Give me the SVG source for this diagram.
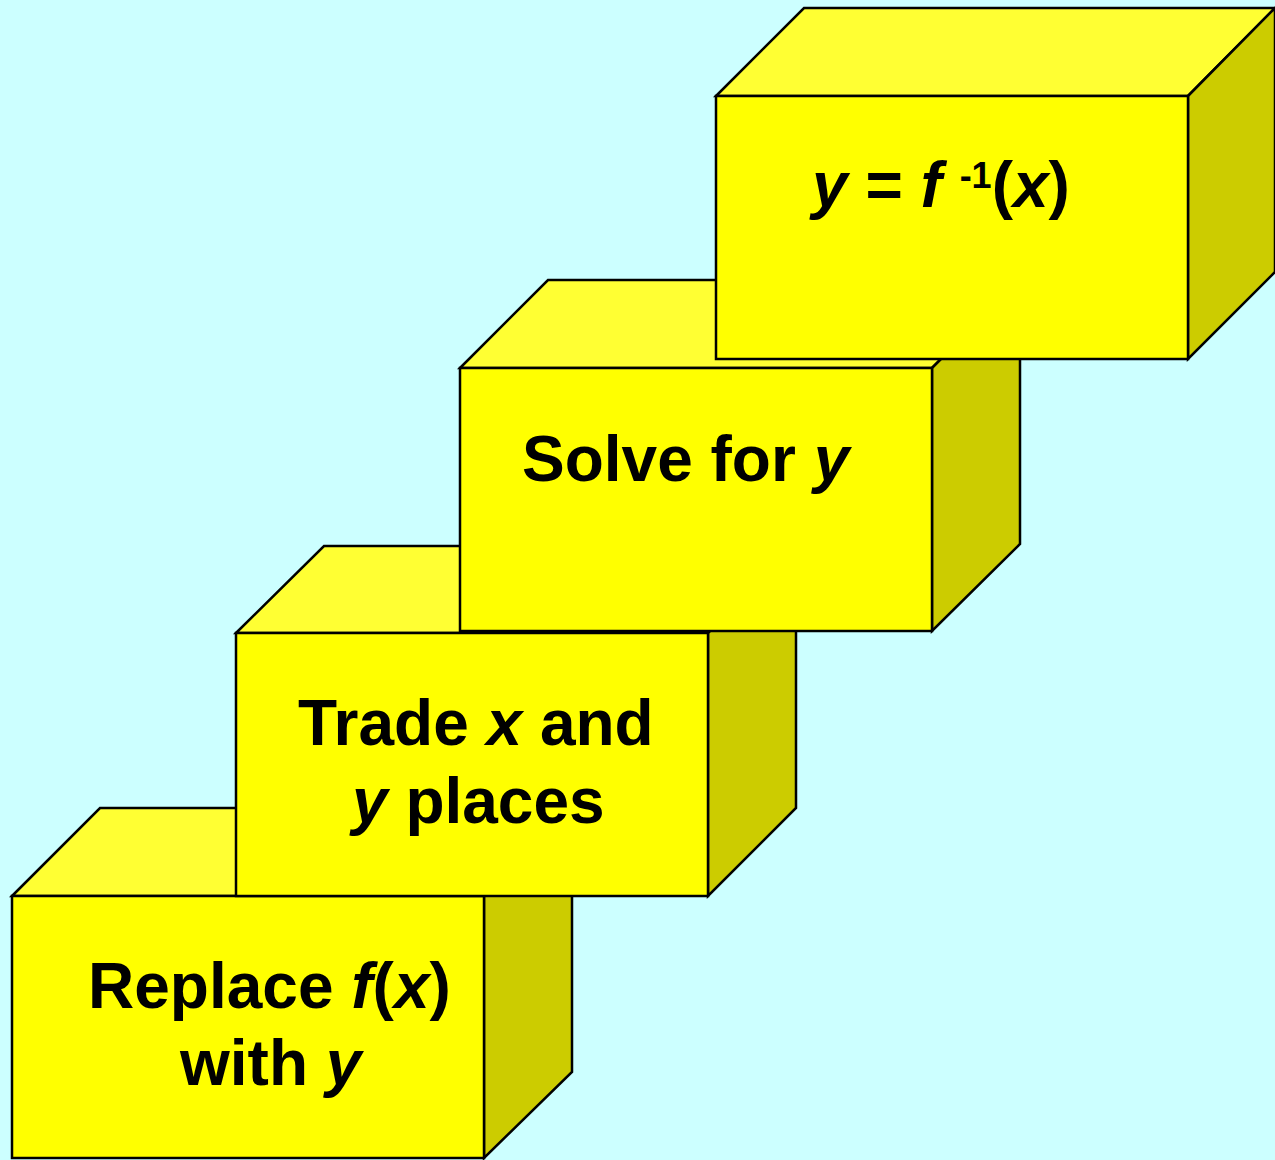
<svg xmlns="http://www.w3.org/2000/svg" width="1275" height="1160" viewBox="0 0 1275 1160">
<style>
.front{fill:#FFFF00;stroke:#000;stroke-width:2.5;stroke-linejoin:miter}
.top{fill:#FFFF33;stroke:#000;stroke-width:2.5}
.side{fill:#CCCC00;stroke:#000;stroke-width:2.5}
.lbl{font-family:"Liberation Sans",Arial,sans-serif;font-weight:bold;font-size:64px;fill:#000}
.i{font-style:italic}
</style>
<rect x="0" y="0" width="1275" height="1160" fill="#CCFFFF"/>
<g id="connectors"/>
<g id="step1">
<polygon class="top" points="12,896 100,808 572,808 484,896"/>
<polygon class="side" points="484,896 572,808 572,1072 484,1158"/>
<rect class="front" x="12" y="896" width="472" height="262"/>
<text class="lbl" x="88" y="1008">Replace <tspan class="i">f</tspan>(<tspan class="i">x</tspan>)</text>
<text class="lbl" x="180" y="1085">with <tspan class="i">y</tspan></text>
</g>
<g id="step2">
<polygon class="top" points="236,633 324,546 796,546 708,633"/>
<polygon class="side" points="708,633 796,546 796,808 708,896"/>
<rect class="front" x="236" y="633" width="472" height="263"/>
<text class="lbl" x="298" y="745">Trade <tspan class="i">x</tspan> and</text>
<text class="lbl" x="352" y="823"><tspan class="i">y</tspan> places</text>
</g>
<g id="step3">
<polygon class="top" points="460,368 548,280 1020,280 932,368"/>
<polygon class="side" points="932,368 1020,280 1020,544 932,631"/>
<rect class="front" x="460" y="368" width="472" height="263"/>
<text class="lbl" x="522" y="481">Solve for <tspan class="i">y</tspan></text>
</g>
<g id="step4">
<polygon class="top" points="716,96 804,8 1275,8 1188,96"/>
<polygon class="side" points="1188,96 1275,8 1275,272 1188,359"/>
<rect class="front" x="716" y="96" width="472" height="263"/>
<text class="lbl" x="812" y="207"><tspan class="i">y</tspan> = <tspan class="i">f</tspan> <tspan font-size="36" dy="-19">-1</tspan><tspan dy="19">(</tspan><tspan class="i">x</tspan>)</text>
</g>
</svg>
